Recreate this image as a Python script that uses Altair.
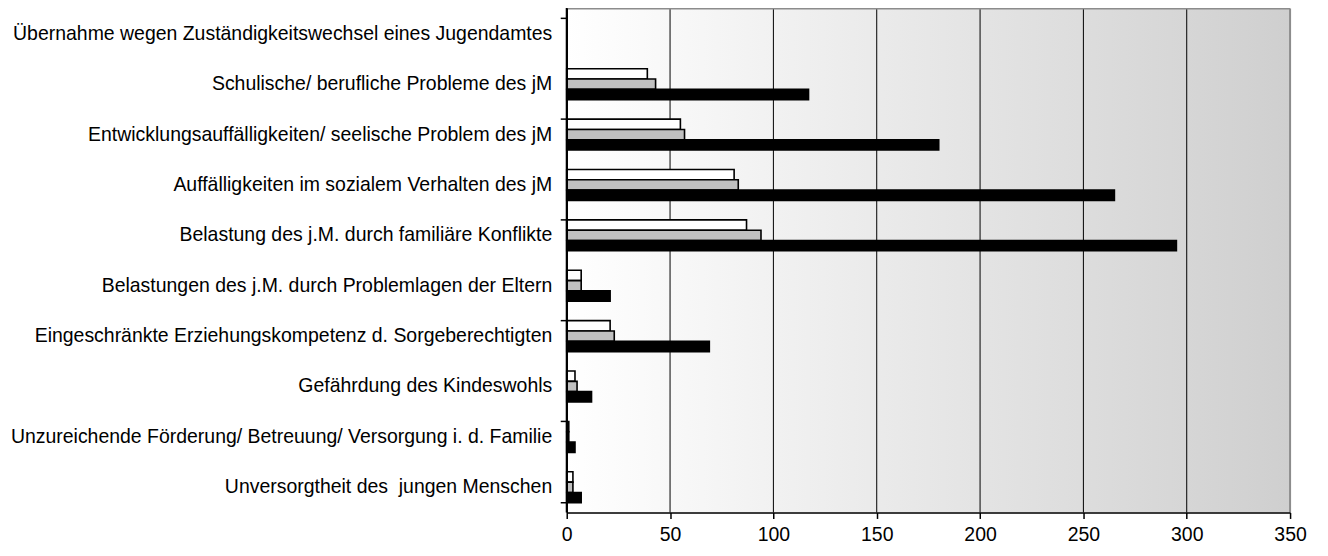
import altair as alt
import pandas as pd

categories = [
    "Übernahme wegen Zuständigkeitswechsel eines Jugendamtes",
    "Schulische/ berufliche Probleme des jM",
    "Entwicklungsauffälligkeiten/ seelische Problem des jM",
    "Auffälligkeiten im sozialem Verhalten des jM",
    "Belastung des j.M. durch familiäre Konflikte",
    "Belastungen des j.M. durch Problemlagen der Eltern",
    "Eingeschränkte Erziehungskompetenz d. Sorgeberechtigten",
    "Gefährdung des Kindeswohls\u00a0",
    "Unzureichende Förderung/ Betreuung/ Versorgung i. d. Familie",
    "Unversorgtheit des\u00a0 jungen Menschen",
]
series = ["A", "B", "C"]
values_a = [0, 39, 55, 81, 87, 7, 21, 4, 1, 3]
values_b = [0, 43, 57, 83, 94, 7, 23, 5, 1, 3]
values_c = [0, 117, 180, 265, 295, 21, 69, 12, 4, 7]
fills = ["#ffffff", "#c0c0c0", "#000000"]
x_ticks = [0, 50, 100, 150, 200, 250, 300, 350]

rows = []
for s, vals in zip(series, [values_a, values_b, values_c]):
    for c, v in zip(categories, vals):
        rows.append({"cat": c, "series": s, "value": v})
df = pd.DataFrame(rows)

W, H = 725, 505
FS = 19.5

yscale = alt.Scale(domain=categories, paddingInner=0.386, paddingOuter=0.193)
xscale = alt.Scale(domain=[0, 350], nice=False, zero=True)

bg = alt.Chart(pd.DataFrame({"a": [0]})).mark_rect(
    color=alt.LinearGradient(
        gradient="linear",
        stops=[alt.GradientStop(color="#ffffff", offset=0),
               alt.GradientStop(color="#cfcfcf", offset=1)],
        x1=0, x2=1, y1=0, y2=0,
    )
).encode(x=alt.value(0), x2=alt.value(W), y=alt.value(0), y2=alt.value(H))

grid = alt.Chart(pd.DataFrame({"v": x_ticks[1:]})).mark_rule().encode(
    x=alt.X("v:Q", scale=xscale),
    color=alt.condition("datum.v === 350", alt.value("#8c8c8c"), alt.value("black")),
    strokeWidth=alt.condition("datum.v === 350", alt.value(2), alt.value(1)),
)

bars = alt.Chart(df).transform_filter("datum.value > 0").mark_bar(
    stroke="black", strokeWidth=1.6, cornerRadius=0
).encode(
    y=alt.Y("cat:N", scale=yscale, sort=categories, title=None,
            axis=alt.Axis(labelFontSize=FS, labelFont="Liberation Sans", labelColor="black",
                          ticks=False, tickSize=0, labelPadding=15, domain=True, domainColor="black",
                          domainWidth=1.5, labelLimit=800, grid=False, zindex=1)),
    yOffset=alt.YOffset("series:N", sort=series, scale=alt.Scale(paddingInner=0, paddingOuter=0)),
    x=alt.X("value:Q", scale=xscale, title=None,
            axis=alt.Axis(values=x_ticks, labelFontSize=FS, labelFont="Liberation Sans",
                          labelColor="black", tickColor="black", tickSize=6, tickWidth=1.5,
                          labelPadding=7, domainColor="black", domainWidth=1.5, grid=False,
                          labelFlush=False, zindex=1)),
    fill=alt.Fill("series:N", scale=alt.Scale(domain=series, range=fills), legend=None),
)

top_border = alt.Chart(pd.DataFrame({"a": [0]})).mark_rule(color="#8c8c8c", strokeWidth=2).encode(
    x=alt.value(0), x2=alt.value(W), y=alt.value(0)
)

left_axis = alt.Chart(pd.DataFrame({"a": [0]})).mark_rect(color="black").encode(
    x=alt.value(-1), x2=alt.value(1), y=alt.value(-1), y2=alt.value(H)
)

tick_cats = pd.DataFrame({"cat": categories[0::2]})
ticks_top = alt.Chart(tick_cats).mark_rule(color="black", strokeWidth=1.5).encode(
    y=alt.Y("cat:N", scale=yscale, sort=categories, bandPosition=0),
    x=alt.value(-6), x2=alt.value(0),
)
ticks_end = alt.Chart(pd.DataFrame({"cat": categories[-1:]})).mark_rule(color="black", strokeWidth=1.5).encode(
    y=alt.Y("cat:N", scale=yscale, sort=categories, bandPosition=1),
    x=alt.value(-6), x2=alt.value(0),
)

chart = alt.layer(bg, grid, top_border, bars, left_axis, ticks_top, ticks_end).properties(
    width=W, height=H,
    autosize=alt.AutoSizeParams(type="none"),
    padding={"left": 560, "top": 0, "right": 30, "bottom": 40},
).configure_view(stroke=None).configure(background="white")

chart.save("out.html", embed_options={"renderer": "svg", "actions": False})
